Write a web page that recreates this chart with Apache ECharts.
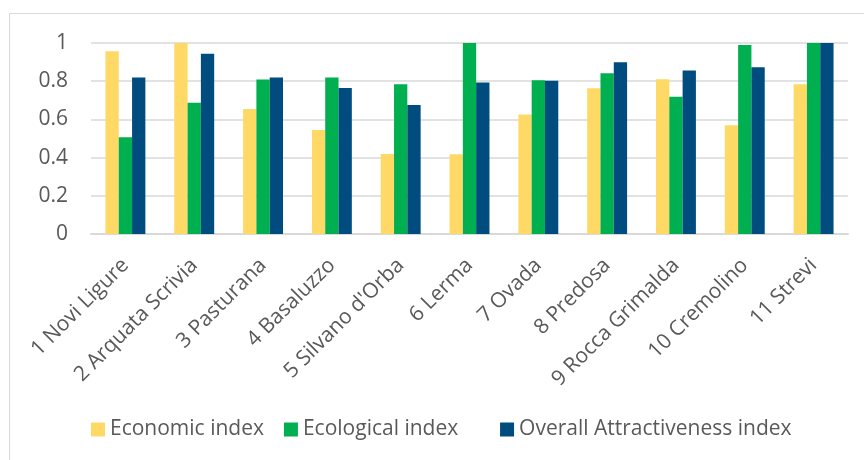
<!DOCTYPE html>
<html>
<head>
<meta charset="utf-8">
<script src="https://cdn.jsdelivr.net/npm/echarts@6/dist/echarts.min.js"></script>
<style>
  html, body { margin: 0; padding: 0; background: #fff; }
  #main { width: 864px; height: 460px; }
</style>
</head>
<body>
<div id="main"></div>
<script>
// towns along the x axis
const towns = ['1 Novi Ligure', '2 Arquata Scrivia', '3 Pasturana', '4 Basaluzzo',
  "5 Silvano d'Orba", '6 Lerma', '7 Ovada', '8 Predosa', '9 Rocca Grimalda',
  '10 Cremolino', '11 Strevi'];

// values
const economic = [0.957, 1.0, 0.654, 0.544, 0.419, 0.417, 0.626, 0.763, 0.810, 0.569, 0.784];
const ecological = [0.506, 0.687, 0.809, 0.819, 0.784, 1.0, 0.805, 0.842, 0.718, 0.99, 1.0];
const overall = [0.819, 0.944, 0.819, 0.765, 0.675, 0.793, 0.803, 0.899, 0.856, 0.873, 1.0];

const seriesNames = ['Economic index', 'Ecological index', 'Overall Attractiveness index'];
const colors = ['#FFD966', '#00B050', '#004C7F'];

const font = '"Open Sans", "Noto Sans", sans-serif';
const grey = '#595959';

const chart = echarts.init(document.getElementById('main'));

chart.setOption({
  animation: false,
  color: colors,
  textStyle: { fontFamily: font },
  graphic: [{
    // chart area border, like the excel frame
    type: 'rect',
    shape: { x: 9.5, y: 13.5, width: 900, height: 500 },
    style: { fill: 'none', stroke: '#D9D9D9', lineWidth: 1 },
    silent: true
  }],
  grid: { left: 91, right: 16, top: 43, bottom: 226 },
  legend: {
    left: 91,
    top: 419,
    padding: 0,
    icon: 'rect',
    itemWidth: 14,
    itemHeight: 14,
    itemGap: 20,
    // the middle entry takes a bit more room in the original
    formatter: name => name === seriesNames[1] ? name + '    ' : name,
    textStyle: { color: grey, fontSize: 21, fontFamily: font },
    data: seriesNames
  },
  xAxis: {
    type: 'category',
    data: towns,
    axisLine: { lineStyle: { color: '#D9D9D9', width: 2 } },
    axisTick: { show: false },
    axisLabel: {
      rotate: 45,
      interval: 0,
      margin: 28,
      color: grey,
      fontSize: 21,
      fontFamily: font
    }
  },
  yAxis: {
    type: 'value',
    min: 0,
    max: 1,
    interval: 0.2,
    axisLine: { show: false },
    axisTick: { show: false },
    splitLine: { lineStyle: { color: '#D9D9D9', width: 1.5 } },
    axisLabel: {
      color: grey,
      fontSize: 21,
      fontFamily: font,
      margin: 23,
      formatter: v => String(Math.round(v * 10) / 10)
    }
  },
  series: [
    { name: seriesNames[0], type: 'bar', data: economic, barGap: '0%', barCategoryGap: '42%' },
    { name: seriesNames[1], type: 'bar', data: ecological, barGap: '0%', barCategoryGap: '42%' },
    { name: seriesNames[2], type: 'bar', data: overall, barGap: '0%', barCategoryGap: '42%' }
  ]
});
</script>
</body>
</html>
